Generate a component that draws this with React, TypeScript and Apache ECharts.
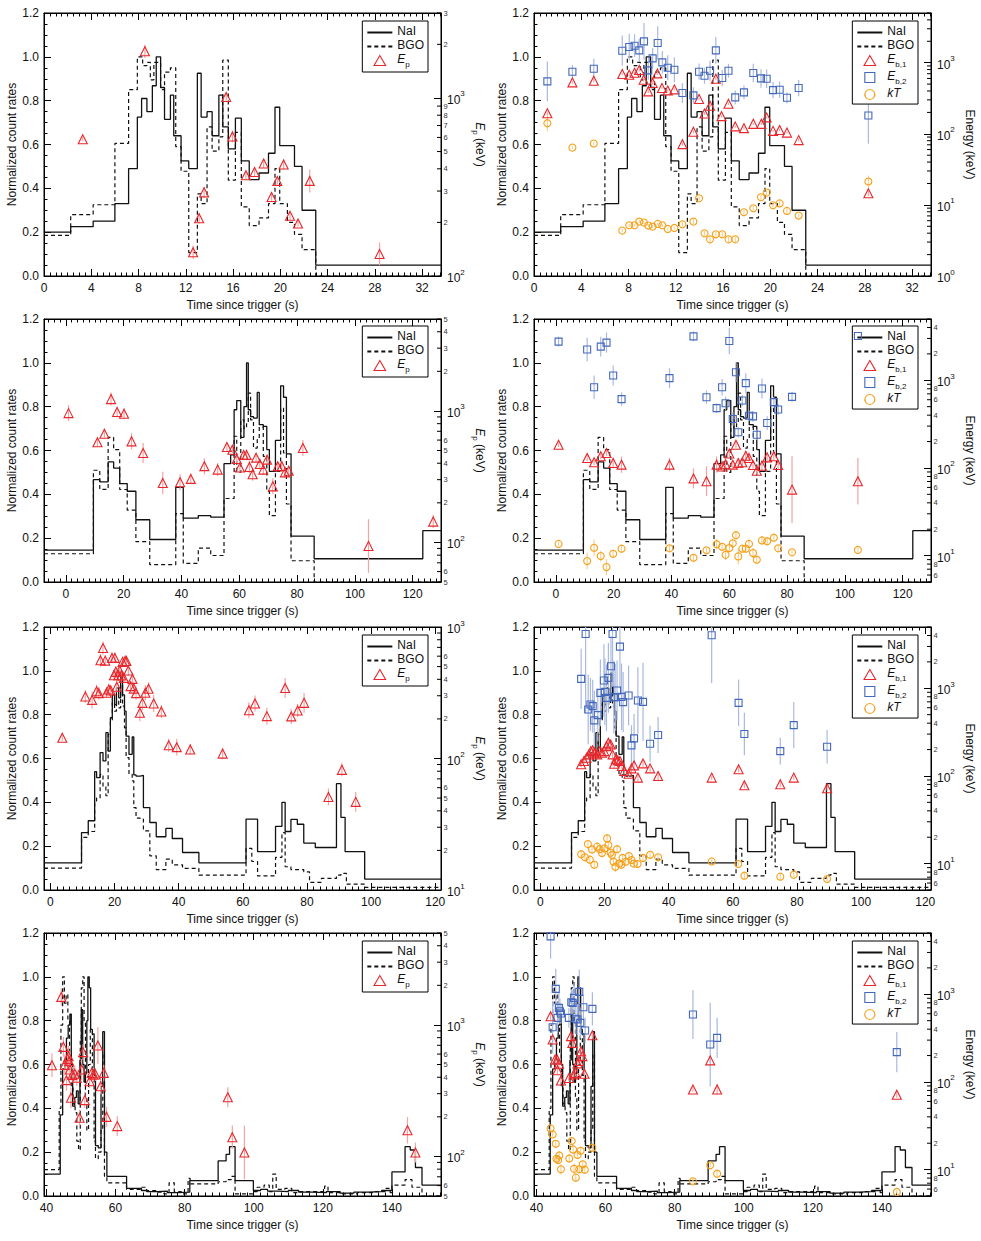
import React, { useEffect, useRef } from "react";
import * as echarts from "echarts";

const FONT = "'Liberation Sans', Arial, Helvetica, sans-serif";

// ---------------- Burst A (row 1) ----------------
const naiA = [[0,0.20],[2.26,0.225],[4.16,0.25],[6.0,0.33],[7.16,0.49],[7.9,0.725],[8.26,0.81],[8.71,0.75],[9.17,0.868],[9.5,1.0],[9.87,0.86],[10.2,0.715],[10.7,0.825],[10.98,0.64],[11.6,0.525],[12.25,0.49],[12.98,0.925],[13.3,0.725],[13.8,0.75],[14.23,0.64],[14.8,0.825],[15.13,0.68],[15.6,0.58],[16.2,0.72],[16.7,0.525],[17.37,0.44],[18.2,0.47],[19.0,0.56],[19.55,0.77],[19.95,0.595],[21.2,0.50],[21.84,0.30],[23.0,0.05]];
const bgoA = [[0,0.185],[2.26,0.28],[4.16,0.325],[6.0,0.605],[7.16,0.85],[7.9,1.0],[8.35,0.96],[8.71,0.975],[9.0,0.895],[9.3,0.975],[9.87,0.85],[10.2,0.93],[10.7,0.95],[11.15,0.59],[11.6,0.478],[12.25,0.107],[12.98,0.375],[13.3,0.33],[13.8,0.68],[14.23,0.57],[14.8,0.635],[15.13,0.985],[15.6,0.437],[16.2,0.655],[16.7,0.315],[17.37,0.23],[18.2,0.265],[19.0,0.33],[19.55,0.49],[19.95,0.33],[20.6,0.245],[21.2,0.19],[21.84,0.12],[23.0,0.0]];
// [time, energy keV, error factor]
const epA = [[3.28,586,1.03],[8.54,1828,1.09],[12.62,136,1.09],[13.13,211,1.07],[13.55,295,1.07],[15.42,1012,1.05],[15.95,608,1.08],[17.09,368,1.05],[17.82,384,1.06],[18.59,428,1.06],[19.26,278,1.05],[19.75,342,1.04],[20.28,423,1.07],[20.82,218,1.05],[21.5,197,1.04],[22.49,342,1.16],[28.4,133,1.16]];
const eb1A = [[1.13,195,1.06],[3.25,528,1.04],[5.06,557,1.06],[7.47,692,1.04],[8.06,678,1.04],[8.51,723,1.04],[8.91,788,1.05],[9.28,576,1.06],[9.67,395,1.05],[10.04,517,1.06],[10.44,707,1.05],[10.83,440,1.04],[11.32,408,1.04],[11.88,421,1.04],[12.56,71.5,1.05],[13.49,107,1.05],[13.97,308,1.04],[14.43,193,1.05],[14.9,248,1.05],[15.39,595,1.05],[15.87,177,1.04],[16.46,265,1.04],[17.03,127,1.04],[17.77,120,1.04],[18.56,138,1.04],[19.24,138,1.04],[19.69,170,1.04],[20.23,110,1.04],[20.79,113,1.04],[21.41,104,1.04],[22.4,81.5,1.05],[28.3,14.6,1.1]];
const eb2A = [[1.13,546,1.9],[3.25,747,1.24],[5.06,823,1.38],[7.47,1475,1.63],[8.06,1663,1.54],[8.51,1735,1.45],[8.91,1492,1.45],[9.31,1995,1.81],[9.67,780,1.35],[10.04,1150,1.4],[10.47,1892,1.72],[10.86,1011,1.45],[11.32,851,1.5],[11.88,797,1.5],[12.56,374,1.38],[13.49,347,1.3],[13.97,747,1.3],[14.43,656,1.3],[14.9,771,1.38],[15.39,1492,1.54],[15.93,608,1.3],[16.46,771,1.25],[17.03,325,1.25],[17.77,382,1.25],[18.56,715,1.35],[19.21,601,1.35],[19.69,595,1.35],[20.23,412,1.3],[20.79,417,1.3],[21.41,321,1.2],[22.4,440,1.3],[28.3,181,2.5]];
const ktA = [[1.13,141,1.3],[3.25,64,1.05],[5.06,73,1.05],[7.47,4.35,1.05],[8.06,5.17,1.05],[8.51,5.17,1.05],[8.91,5.82,1.05],[9.31,5.64,1.05],[9.67,5.12,1.05],[10.04,4.95,1.05],[10.47,5.4,1.05],[10.86,5.17,1.05],[11.32,4.59,1.05],[11.88,4.74,1.05],[12.56,5.34,1.08],[13.49,5.82,1.08],[13.97,12.4,1.06],[14.43,3.99,1.08],[14.9,3.28,1.12],[15.39,3.86,1.08],[15.93,3.86,1.08],[16.46,3.28,1.1],[17.03,3.28,1.1],[17.77,7.88,1.08],[18.56,8.98,1.08],[19.21,12.8,1.08],[19.69,14.9,1.08],[20.23,9.89,1.08],[20.79,10.5,1.08],[21.41,8.23,1.1],[22.4,7.08,1.06],[28.3,21.3,1.22]];

// ---------------- Burst B (row 2) ----------------
const naiB = [[-7.6,0.145],[9.5,0.467],[11.7,0.457],[14.6,0.548],[16.5,0.52],[18.6,0.449],[21.2,0.414],[24.2,0.284],[29.0,0.194],[38.0,0.432],[40.6,0.291],[45.8,0.303],[50.1,0.296],[54.7,0.54],[57.0,0.58],[58.2,0.786],[59.1,0.828],[60.5,0.66],[61.6,0.80],[62.5,1.0],[63.1,0.786],[63.9,0.755],[64.9,0.748],[66.2,0.865],[66.9,0.718],[68.3,0.71],[69.5,0.604],[70.4,0.505],[72.5,0.646],[74.3,0.895],[75.3,0.843],[76.3,0.585],[77.9,0.209],[85.9,0.106],[123.5,0.234]];
const bgoB = [[-7.6,0.129],[9.5,0.51],[11.7,0.423],[14.6,0.66],[16.5,0.604],[18.6,0.422],[21.2,0.328],[24.2,0.184],[29.0,0.079],[38.0,0.312],[40.6,0.085],[45.8,0.155],[50.1,0.121],[54.7,0.381],[58.2,0.665],[59.1,0.50],[60.5,0.74],[61.6,0.70],[62.5,0.725],[63.1,0.862],[63.9,0.74],[64.9,0.611],[66.2,0.65],[66.9,0.707],[68.3,0.573],[69.5,0.414],[70.4,0.303],[72.5,0.505],[74.3,0.793],[75.3,0.589],[76.3,0.356],[77.9,0.097],[85.9,0.0]];
const epB = [[0.9,962,1.15],[10.9,577,1.08],[13.3,671,1.07],[15.6,1230,1.12],[17.7,980,1.1],[20.1,951,1.1],[22.7,587,1.15],[26.7,479,1.19],[33.5,283,1.22],[39.5,287,1.15],[43.2,304,1.1],[47.9,380,1.15],[52.5,358,1.12],[55.7,532,1.08],[57.6,507,1.06],[59.1,431,1.08],[60.2,371,1.1],[61.5,463,1.08],[62.5,463,1.1],[63.5,375,1.12],[64.6,330,1.12],[65.8,441,1.08],[67.1,395,1.1],[68.3,358,1.1],[69.6,426,1.08],[71.6,267,1.15],[73.3,380,1.08],[74.7,380,1.1],[75.8,341,1.1],[77.1,351,1.08],[82.0,522,1.15],[104.7,93.8,1.6],[127.1,144,1.12]];
const eb1B = [[0.9,184,1.06],[10.8,130,1.08],[13.2,116,1.08],[15.5,136,1.08],[17.5,148,1.08],[19.8,114,1.15],[22.7,109,1.24],[39.3,109,1.19],[47.6,76,1.3],[52.1,70.5,1.48],[55.6,109,1.24],[57.5,104,1.15],[58.7,110,1.12],[60.0,146,1.1],[61.2,109,1.12],[62.3,184,1.1],[63.1,114,1.1],[64.5,116,1.1],[65.7,138,1.1],[66.8,130,1.1],[68.2,108,1.1],[69.5,93,1.1],[71.3,106,1.15],[73.1,132,1.15],[75.4,136,1.12],[76.9,108,1.1],[81.7,56.6,2.4],[104.5,70.5,1.84]];
const eb2B = [[0.9,2760,1.14],[10.8,2240,1.36],[13.2,834,1.36],[15.5,2420,1.3],[17.5,2690,1.3],[19.8,1132,1.3],[22.7,610,1.19],[39.3,1057,1.3],[47.6,3170,1.14],[52.1,641,1.19],[55.6,481,1.14],[57.5,834,1.24],[58.7,548,1.19],[60.0,2805,1.42],[61.2,361,1.19],[62.3,1236,1.3],[63.1,255,1.15],[64.5,589,1.15],[65.7,927,1.3],[66.8,394,1.15],[68.2,387,1.15],[69.5,239,1.15],[71.3,805,1.3],[73.1,325,1.2],[75.4,564,1.15],[76.9,465,1.15],[81.7,647,1.14],[104.5,3200,1.1]];
const ktB = [[0.9,13.6,1.05],[10.8,8.67,1.24],[13.2,12.3,1.24],[15.5,9.88,1.15],[17.5,7.41,1.24],[19.8,10.5,1.12],[22.7,12.0,1.1],[39.3,12.1,1.1],[47.6,9.46,1.1],[52.1,11.5,1.08],[55.6,13.5,1.15],[57.5,12.6,1.1],[58.7,10.2,1.15],[60.0,12.2,1.12],[61.2,13.8,1.12],[62.3,17.1,1.1],[63.1,9.8,1.24],[64.5,12.0,1.1],[65.7,12.0,1.1],[66.8,13.6,1.12],[68.2,10.7,1.15],[69.5,8.98,1.1],[71.3,14.9,1.12],[73.1,14.6,1.12],[75.4,16.0,1.08],[76.9,12.1,1.1],[81.7,10.9,1.06],[104.5,11.6,1.06]];

// ---------------- Burst C (row 3) ----------------
const naiC = [[-2,0.124],[9.7,0.262],[11.8,0.316],[13.8,0.54],[14.4,0.513],[15.5,0.627],[16.4,0.589],[17.3,0.718],[18.0,0.634],[18.7,0.786],[19.3,0.89],[20.0,0.846],[20.6,0.922],[21.3,0.877],[21.9,0.99],[22.5,0.89],[23.1,0.816],[23.6,0.702],[24.5,0.619],[25.5,0.698],[26.0,0.525],[26.7,0.52],[28.0,0.523],[29.0,0.376],[31.0,0.308],[33.0,0.243],[36.0,0.281],[38.0,0.235],[41.2,0.171],[46.3,0.124],[61.0,0.323],[64.6,0.175],[70.2,0.29],[72.2,0.40],[73.2,0.267],[75.0,0.322],[77.0,0.30],[79.0,0.214],[82.6,0.194],[89.2,0.485],[90.6,0.331],[91.9,0.175],[98.0,0.05]];
const bgoC = [[-2,0.10],[9.7,0.24],[11.8,0.267],[13.8,0.406],[14.4,0.42],[15.5,0.528],[16.4,0.472],[17.3,0.43],[18.0,0.71],[18.7,0.77],[19.3,0.854],[20.0,0.816],[20.6,0.862],[21.3,0.831],[21.9,0.937],[22.5,0.839],[23.1,0.74],[23.6,0.604],[24.5,0.528],[25.5,0.498],[26.0,0.376],[26.7,0.328],[28.0,0.323],[29.0,0.27],[31.0,0.156],[33.0,0.093],[36.0,0.141],[38.0,0.115],[41.2,0.099],[46.3,0.068],[61.0,0.19],[62.8,0.13],[64.6,0.064],[70.2,0.149],[72.2,0.262],[73.2,0.106],[75.0,0.093],[79.0,0.083],[80.8,0.035],[84.5,0.053],[89.2,0.068],[90.6,0.076],[92.3,0.027],[98.0,0.012]];
const epC = [[3.7,144,1.06],[10.9,296,1.12],[13.0,279,1.16],[14.4,325,1.12],[15.1,314,1.12],[15.6,558,1.12],[16.4,693,1.12],[17.1,555,1.1],[17.5,316,1.1],[18.2,335,1.1],[18.8,329,1.1],[19.2,582,1.1],[19.8,430,1.1],[20.1,582,1.1],[20.4,456,1.1],[20.7,351,1.1],[21.2,430,1.1],[21.6,467,1.1],[22.1,428,1.1],[22.5,543,1.1],[22.9,410,1.1],[23.3,552,1.1],[23.7,552,1.1],[24.3,467,1.1],[25.0,355,1.1],[25.6,403,1.12],[26.0,340,1.12],[26.7,314,1.12],[27.9,223,1.16],[28.7,265,1.14],[29.6,316,1.14],[30.6,339,1.12],[32.2,262,1.16],[34.6,228,1.12],[36.9,126,1.12],[39.4,122,1.16],[43.6,117,1.1],[53.7,109,1.1],[61.9,233,1.15],[63.8,262,1.15],[67.5,210,1.16],[73.2,344,1.19],[75.1,209,1.14],[77.1,232,1.12],[79.1,265,1.19],[86.7,51,1.16],[90.9,82,1.12],[95.2,46.8,1.19]];
const eb1C = [[12.7,136,1.08],[13.6,148,1.08],[14.4,161,1.08],[15.1,176,1.1],[15.7,192,1.1],[16.3,196,1.1],[16.9,184,1.1],[17.7,176,1.1],[18.5,192,1.1],[19.2,184,1.1],[19.9,192,1.1],[20.6,219,1.1],[21.2,239,1.1],[21.9,229,1.1],[22.5,176,1.1],[23.0,138,1.12],[23.5,155,1.12],[24.1,151,1.1],[24.8,148,1.1],[25.4,130,1.1],[26.1,114,1.1],[27.5,106,1.1],[28.4,122,1.1],[29.2,132,1.1],[30.4,95.7,1.1],[32.0,139,1.1],[34.2,122,1.1],[36.7,99.8,1.12],[53.4,95.7,1.06],[61.8,119,1.08],[63.6,78.3,1.08],[74.8,80.4,1.08],[79.0,95.7,1.06],[89.4,72.3,1.06]];
const eb2C = [[12.7,1280,2.2],[14.1,4160,8],[14.9,573,2.5],[15.6,653,2.0],[16.3,625,2.0],[16.8,430,2.2],[17.9,494,2.0],[18.7,887,2.4],[19.8,1225,2.6],[20.1,910,2.4],[20.6,778,2.4],[21.2,1313,2.5],[22.0,1782,2.2],[22.5,4160,4],[22.9,791,2.6],[23.3,791,2.4],[23.9,942,2.2],[24.8,2985,3],[25.3,798,2.4],[25.8,695,2.2],[27.5,827,2.2],[28.4,223,1.7],[29.2,268,1.9],[30.4,726,2.4],[32.0,700,2.8],[34.2,233,1.6],[36.7,293,1.6],[53.4,4020,3.5],[61.8,682,1.84],[63.6,301,1.75],[74.8,192,1.42],[79.0,380,1.84],[89.4,215,1.55]];
const ktC = [[12.7,12.8,1.12],[13.9,11.8,1.12],[14.8,16.7,1.12],[15.4,11.1,1.12],[16.1,14.5,1.12],[16.8,9.7,1.12],[17.7,15.6,1.12],[18.5,14.6,1.12],[19.2,13.2,1.12],[20.0,14.9,1.12],[20.8,19.4,1.12],[21.2,16.3,1.12],[21.9,13.3,1.15],[22.3,12.5,1.12],[22.8,10.5,1.12],[23.4,9.2,1.15],[23.9,14.6,1.12],[24.6,10.0,1.12],[25.2,9.7,1.12],[25.6,11.6,1.1],[26.6,10.5,1.1],[27.6,12.2,1.1],[28.4,11.0,1.1],[29.1,10.0,1.1],[30.3,9.9,1.1],[32.0,11.6,1.08],[34.2,12.6,1.08],[36.7,11.8,1.08],[53.4,10.6,1.05],[61.7,9.9,1.06],[63.6,7.28,1.1],[74.8,7.1,1.1],[79.0,7.47,1.06],[89.4,6.67,1.06]];

// ---------------- Burst D (row 4) ----------------
const naiD = [[39.3,0.10],[44.0,0.37],[44.7,0.58],[45.3,0.62],[45.8,0.72],[46.3,0.78],[46.8,0.83],[47.2,0.60],[47.6,0.41],[48.2,0.45],[48.7,0.48],[49.2,0.42],[49.7,0.62],[50.1,0.85],[50.5,0.60],[50.9,0.52],[51.3,0.56],[51.7,0.80],[52.0,1.00],[52.4,0.95],[52.8,0.76],[53.3,0.74],[53.8,0.55],[54.2,0.23],[55.0,0.22],[55.8,0.50],[56.3,0.75],[56.8,0.20],[57.5,0.09],[63.2,0.035],[67.5,0.025],[69.0,0.02],[72.0,0.022],[75.0,0.015],[78.0,0.018],[81.5,0.07],[89.7,0.16],[92.0,0.19],[93.0,0.225],[94.6,0.07],[99.9,0.025],[102.0,0.03],[104.0,0.022],[107.0,0.02],[110.0,0.025],[113.0,0.018],[117.0,0.015],[121.0,0.02],[125.0,0.013],[129.0,0.018],[133.0,0.02],[137.0,0.025],[140.0,0.11],[143.8,0.225],[145.3,0.21],[146.8,0.13],[148.7,0.05]];
const bgoD = [[39.3,0.12],[43.7,0.40],[44.2,0.78],[44.7,1.0],[45.2,0.88],[45.7,0.92],[46.2,0.80],[46.7,0.65],[47.2,0.50],[47.7,0.42],[48.3,0.38],[48.8,0.25],[49.3,0.21],[49.8,0.72],[50.1,0.95],[50.5,1.0],[50.9,0.80],[51.3,0.45],[51.7,0.30],[52.2,0.60],[52.7,0.76],[53.3,0.55],[53.8,0.25],[54.2,0.17],[55.0,0.20],[55.8,0.30],[56.3,0.65],[56.8,0.09],[57.5,0.06],[63.2,0.03],[67.5,0.04],[69.0,0.025],[72.0,0.018],[74.0,0.01],[75.5,0.06],[77.0,0.02],[79.0,0.01],[81.0,0.08],[81.6,0.055],[89.7,0.065],[92.0,0.075],[93.5,0.09],[94.6,0.01],[100.0,0.02],[101.0,0.04],[103.0,0.05],[104.5,0.02],[105.5,0.10],[106.5,0.03],[109.0,0.035],[111.0,0.015],[113.0,0.02],[120.5,0.045],[121.5,0.015],[125.0,0.01],[130.0,0.015],[135.0,0.02],[138.0,0.035],[139.5,0.015],[140.0,0.05],[143.8,0.075],[145.8,0.04],[148.7,0.0]];
const epD = [[41.6,494,1.23],[44.3,1633,1.16],[44.9,681,1.19],[45.3,497,1.2],[45.8,380,1.2],[46.1,552,1.2],[46.4,578,1.2],[46.6,530,1.2],[46.8,458,1.2],[47.1,279,1.2],[47.5,417,1.15],[48.2,425,1.15],[48.8,396,1.15],[49.6,197,1.15],[50.2,458,1.2],[50.6,621,1.15],[51.1,268,1.15],[52.5,373,1.12],[53.1,432,1.12],[53.6,420,1.12],[54.2,420,1.12],[54.9,697,1.38],[55.7,342,1.15],[56.6,432,1.15],[57.4,200,1.19],[60.5,170,1.19],[92.5,282,1.19],[93.8,140,1.23],[97.3,107,1.6],[144.5,158,1.26],[146.8,107,1.19]];
const eb1D = [[44.1,562,1.1],[44.7,305,1.15],[45.4,180,1.1],[46.0,180,1.1],[46.1,136,1.1],[46.5,161,1.1],[47.1,104,1.1],[49.4,111,1.1],[50.0,333,1.12],[50.4,279,1.12],[50.8,122,1.1],[51.3,127,1.1],[51.9,163,1.1],[52.3,173,1.1],[52.9,224,1.1],[53.3,197,1.1],[53.9,124,1.1],[56.2,341,1.1],[85.3,82,1.06],[90.3,176,1.06],[92.3,82,1.15],[144.3,71.4,1.08]];
const eb2D = [[44.1,4580,1.8],[44.7,421,2.0],[45.6,1151,1.7],[46.1,538,1.5],[46.5,700,1.5],[46.8,641,1.4],[47.1,603,1.3],[49.4,538,1.3],[50.1,811,1.4],[50.5,798,1.4],[50.9,910,1.5],[51.4,525,1.5],[51.9,515,1.5],[52.4,1064,1.8],[52.7,472,1.5],[53.6,711,1.4],[54.1,386,1.4],[56.2,681,1.55],[85.3,587,1.9],[90.3,267,3.0],[92.3,318,1.7],[144.3,219,1.7]];
const ktD = [[44.1,29.5,1.08],[44.7,25.2,1.08],[45.6,19.7,1.1],[45.8,13.3,1.12],[46.3,12.9,1.12],[46.6,14.5,1.12],[47.1,10.1,1.15],[49.5,13.4,1.12],[50.2,21.2,1.1],[50.6,17.0,1.12],[50.9,10.2,1.15],[51.4,8.09,1.12],[51.9,14.7,1.12],[52.4,10.1,1.12],[52.8,16.4,1.12],[53.4,11.5,1.12],[54.0,9.98,1.12],[56.2,17.8,1.1],[85.3,7.35,1.1],[90.3,11.2,1.06],[92.3,8.98,1.08],[144.3,5.56,1.05]];

// ---------------- Axes ----------------
const xRanges = [[0, 33.6], [-7.6, 129.8], [-2, 121.8], [39.3, 154.2]];
const xSteps = [4, 20, 20, 20];
const xMinorSplits = [8, 10, 10, 10];
const epRanges = [[100, 3000], [50, 5000], [10, 1000], [50, 5000]];
const enRanges = [[1, 5000], [5, 5000], [5, 5000], [5, 5000]];
const epMinorLabels = [
  [200, 300, 400, 500, 600, 700, 800, 900, 2000, 3000],
  [50, 60, 200, 300, 400, 500, 600, 2000, 3000, 4000, 5000],
  [20, 30, 40, 50, 60, 200, 300, 400, 500, 600],
  [50, 60, 200, 300, 400, 500, 600, 2000, 3000, 4000, 5000],
];
const enMinorLabels = [
  [],
  [6, 8, 20, 40, 60, 80, 200, 400, 600, 800, 2000, 4000],
  [6, 8, 20, 40, 60, 80, 200, 400, 600, 800, 2000, 4000],
  [6, 8, 20, 40, 60, 80, 200, 400, 600, 800, 2000, 4000],
];

const rows = [
  { nai: naiA, bgo: bgoA, ep: epA, eb1: eb1A, eb2: eb2A, kt: ktA },
  { nai: naiB, bgo: bgoB, ep: epB, eb1: eb1B, eb2: eb2B, kt: ktB },
  { nai: naiC, bgo: bgoC, ep: epC, eb1: eb1C, eb2: eb2C, kt: ktC },
  { nai: naiD, bgo: bgoD, ep: epD, eb1: eb1D, eb2: eb2D, kt: ktD },
];

// layout
const rowTops = [13, 319, 627, 933];
const colLefts = [44, 534];
const PLOT_W = 397;
const PLOT_H = 263;
const legendTops = [21, 326, 635, 941];
const legendRights = [553, 63];

const MARKS: any = {
  Ep: { symbol: "triangle", size: 9, color: "#e8262b", err: "#f5a3a3", icon: "path://M5,0L10,8.66L0,8.66Z" },
  Eb1: { symbol: "triangle", size: 9, color: "#e8262b", err: "#f5a3a3", icon: "path://M5,0L10,8.66L0,8.66Z" },
  Eb2: { symbol: "rect", size: 7, color: "#4468bb", err: "#a9b9e0", icon: "path://M0,0L10,0L10,10L0,10Z" },
  kT: { symbol: "circle", size: 7, color: "#f5a01a", err: "#f8d08e", icon: "path://M5,0A5,5,0,1,1,4.99,0Z" },
};

const richSup = {
  b: { fontSize: 12, lineHeight: 16, verticalAlign: "bottom", color: "#111", fontFamily: FONT },
  s: { fontSize: 8, lineHeight: 8, verticalAlign: "top", color: "#111", fontFamily: FONT },
};
const richSub = {
  e: { fontSize: 12, fontStyle: "italic", lineHeight: 15, verticalAlign: "top", color: "#111", fontFamily: FONT },
  p: { fontSize: 8, lineHeight: 8, verticalAlign: "bottom", color: "#111", fontFamily: FONT },
  r: { fontSize: 12, lineHeight: 15, verticalAlign: "top", color: "#111", fontFamily: FONT },
};
const legendNames: any = {
  NaI: "{r|NaI}",
  BGO: "{r|BGO}",
  Ep: "{e|E}{p|p}",
  Eb1: "{e|E}{p|b,1}",
  Eb2: "{e|E}{p|b,2}",
  kT: "{e|kT}",
};

function stepData(bins: number[][], end: number) {
  const d = bins.map((b) => [b[0], b[1]]);
  d.push([end, bins[bins.length - 1][1]]);
  return d;
}

function logTickData(min: number, max: number, labels: number[], xAt: number) {
  const out: number[][] = [];
  for (let d = Math.floor(Math.log10(min)); d <= Math.ceil(Math.log10(max)); d++) {
    for (let k = 2; k <= 9; k++) {
      const v = k * Math.pow(10, d);
      if (v < min * 0.999 || v > max * 1.001) continue;
      const lab = labels.some((l) => Math.abs(l - v) < v * 1e-6) ? k : 0;
      out.push([xAt, v, lab]);
    }
  }
  return out;
}

const hiddenSymbol = { color: "rgba(0,0,0,0)", borderColor: "rgba(0,0,0,0)", borderWidth: 0 };

function buildOption() {
  const grid: any[] = [];
  const xAxis: any[] = [];
  const yAxis: any[] = [];
  const series: any[] = [];
  const legend: any[] = [];

  for (let r = 0; r < 4; r++) {
    for (let c = 0; c < 2; c++) {
      const g = r * 2 + c;
      const [xmin, xmax] = xRanges[r];
      const step = xSteps[r];
      const row = rows[r];
      const eRange = c === 0 ? epRanges[r] : enRanges[r];
      const eLabels = c === 0 ? epMinorLabels[r] : enMinorLabels[r];

      grid.push({
        left: colLefts[c], top: rowTops[r], width: PLOT_W, height: PLOT_H,
        show: true, borderColor: "#000", borderWidth: 1, backgroundColor: "transparent",
      });

      const xCommon = {
        type: "value", gridIndex: g, min: xmin, max: xmax,
        minInterval: step, maxInterval: step,
        splitNumber: Math.round((xmax - xmin) / step),
        axisLine: { show: true, onZero: false, lineStyle: { color: "#000", width: 1 } },
        axisTick: { show: true, inside: true, length: 7, lineStyle: { color: "#000" } },
        minorTick: { show: true, splitNumber: xMinorSplits[r], length: 3.5, lineStyle: { color: "#000" } },
        splitLine: { show: false },
        minorSplitLine: { show: false },
      };
      xAxis.push({
        ...xCommon,
        position: "bottom",
        axisLabel: { fontSize: 12, color: "#111", margin: 6, fontFamily: FONT, showMinLabel: r === 0, showMaxLabel: false },
        name: "Time since trigger (s)", nameLocation: "middle", nameGap: 23,
        nameTextStyle: { fontSize: 12, color: "#111", fontFamily: FONT },
      });
      xAxis.push({ ...xCommon, position: "top", axisLabel: { show: false } });

      yAxis.push({
        type: "value", gridIndex: g, min: 0, max: 1.2, interval: 0.2, position: "left",
        axisLine: { show: true, onZero: false, lineStyle: { color: "#000", width: 1 } },
        axisTick: { show: true, inside: true, length: 7, lineStyle: { color: "#000" } },
        minorTick: { show: true, splitNumber: 4, length: 3.5, lineStyle: { color: "#000" } },
        splitLine: { show: false },
        axisLabel: { fontSize: 12, color: "#111", margin: 5, fontFamily: FONT, formatter: (v: number) => v.toFixed(1) },
        name: "Normalized count rates", nameLocation: "middle", nameGap: 23,
        nameTextStyle: { fontSize: 12, color: "#111", fontFamily: FONT },
      });
      yAxis.push({
        type: "log", logBase: 10, gridIndex: g, min: eRange[0], max: eRange[1], position: "right",
        axisLine: { show: true, onZero: false, lineStyle: { color: "#000", width: 1 } },
        axisTick: { show: true, inside: true, length: 7, lineStyle: { color: "#000" } },
        splitLine: { show: false },
        axisLabel: {
          margin: 6, color: "#111", fontFamily: FONT,
          formatter: (v: number) => {
            const e = Math.log10(v);
            if (Math.abs(e - Math.round(e)) > 1e-4) return "";
            return `{b|10}{s|${Math.round(e)}}`;
          },
          rich: richSup,
        },
        name: c === 0 ? "{e|E}{p|p}{r| (keV)}" : "{r|Energy (keV)}",
        nameLocation: "middle", nameRotate: -90, nameGap: 30,
        nameTextStyle: { fontSize: 12, color: "#111", fontFamily: FONT, rich: richSub },
      });

      const xi = 2 * g;
      const yl = 2 * g;
      const yr = 2 * g + 1;

      series.push({
        name: "NaI", type: "line", xAxisIndex: xi, yAxisIndex: yl, step: "end", symbol: "none",
        silent: true, z: 2, color: "#111", itemStyle: { color: "#111" },
        lineStyle: { color: "#111", width: 1.3, type: "solid" },
        data: stepData(row.nai, xmax),
      });
      series.push({
        name: "BGO", type: "line", xAxisIndex: xi, yAxisIndex: yl, step: "end", symbol: "none",
        silent: true, z: 2, color: "#111", itemStyle: { color: "#111" },
        lineStyle: { color: "#111", width: 1.2, type: [4, 3] },
        data: stepData(row.bgo, xmax),
      });

      const sets: [string, number[][]][] = c === 0
        ? [["Ep", row.ep]]
        : [["Eb1", row.eb1], ["Eb2", row.eb2], ["kT", row.kt]];

      sets.forEach(([nm, pts]) => {
        const m = MARKS[nm];
        series.push({
          name: nm + "_err", type: "custom", xAxisIndex: xi, yAxisIndex: yr, silent: true, z: 3, clip: true,
          encode: { x: 0, y: [1, 2] },
          data: pts.map((p) => [p[0], p[1] / p[2], p[1] * p[2]]),
          renderItem: (params: any, api: any) => {
            const a = api.coord([api.value(0), api.value(1)]);
            const b = api.coord([api.value(0), api.value(2)]);
            return {
              type: "line",
              shape: { x1: a[0], y1: a[1], x2: b[0], y2: b[1] },
              style: { stroke: m.err, lineWidth: 1.2 },
            };
          },
        });
      });
      sets.forEach(([nm, pts]) => {
        const m = MARKS[nm];
        series.push({
          name: nm, type: "scatter", xAxisIndex: xi, yAxisIndex: yr, silent: true, z: 4,
          symbol: m.symbol, symbolSize: m.size,
          itemStyle: { color: "rgba(255,255,255,0)", borderColor: m.color, borderWidth: 1.1, opacity: 1 },
          data: pts.map((p) => [p[0], p[1]]),
        });
      });

      // minor log ticks and digit labels on the right axis
      series.push({
        name: "ticks", type: "custom", xAxisIndex: xi, yAxisIndex: yr, silent: true, z: 5, clip: false,
        encode: { x: 0, y: 1 },
        data: logTickData(eRange[0], eRange[1], eLabels, xmax),
        renderItem: (params: any, api: any) => {
          const p = api.coord([api.value(0), api.value(1)]);
          const lab = api.value(2);
          const children: any[] = [
            { type: "line", shape: { x1: p[0] - 4, y1: p[1], x2: p[0], y2: p[1] }, style: { stroke: "#000", lineWidth: 1 } },
          ];
          if (lab) {
            children.push({
              type: "text", x: p[0] + 2.5, y: p[1],
              style: { text: String(lab), fontSize: 7.5, fill: "#333", align: "left", verticalAlign: "middle", fontFamily: FONT },
            });
          }
          return { type: "group", children };
        },
      });

      const names = c === 0 ? ["NaI", "BGO", "Ep"] : ["NaI", "BGO", "Eb1", "Eb2", "kT"];
      legend.push({
        orient: "vertical", right: legendRights[c], top: legendTops[r],
        data: names.map((n) =>
          n === "NaI" || n === "BGO"
            ? { name: n, itemStyle: hiddenSymbol }
            : {
                name: n,
                icon: MARKS[n].icon,
                itemStyle: { color: "rgba(255,255,255,0)", borderColor: MARKS[n].color, borderWidth: 1.1 },
              }
        ),
        itemWidth: 25, itemHeight: 10, itemGap: 2,
        symbolKeepAspect: true,
        padding: [4, 4, 4, 4],
        borderColor: "#000", borderWidth: 1, backgroundColor: "#fff",
        selectedMode: false,
        textStyle: { fontSize: 12, color: "#111", fontFamily: FONT, rich: richSub },
        formatter: (n: string) => legendNames[n] ?? n,
      });
    }
  }

  return {
    animation: false,
    backgroundColor: "#fff",
    textStyle: { fontFamily: FONT },
    grid, xAxis, yAxis, series, legend,
  };
}

export default function App() {
  const ref = useRef<HTMLDivElement>(null);
  useEffect(() => {
    document.body.style.margin = "0";
    if (!ref.current) return;
    const chart = echarts.init(ref.current, undefined, { renderer: "svg" });
    chart.setOption(buildOption() as any);
    return () => chart.dispose();
  }, []);
  return <div ref={ref} style={{ width: 981, height: 1241 }} />;
}
